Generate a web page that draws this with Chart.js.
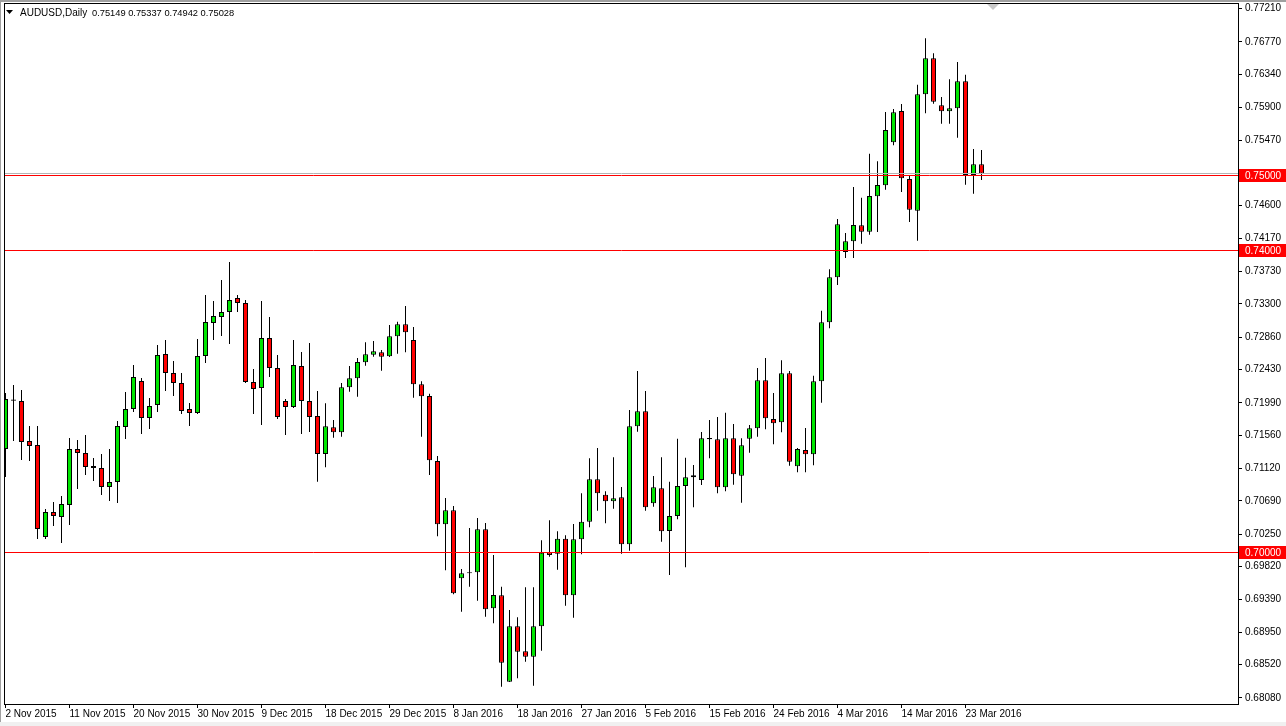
<!DOCTYPE html>
<html>
<head>
<meta charset="utf-8">
<script src="https://cdn.jsdelivr.net/npm/chart.js@4.4.1/dist/chart.umd.min.js"></script>
<style>
  html, body { margin: 0; padding: 0; background: #fff; }
  canvas { display: block; }
</style>
</head>
<body>
<canvas id="chart" width="1286" height="726"></canvas>
<script>
const symbol = 'AUDUSD,Daily';

// daily candles, 2 Nov 2015 .. 25 Mar 2016 (index = bar number)
const opens = [
  0.71377, 0.72033, 0.72013, 0.71483, 0.71430, 0.70212, 0.70543, 0.70477, 0.70636, 0.71377,
  0.71325, 0.71152, 0.71126, 0.70874, 0.70940, 0.71669, 0.71907, 0.72278, 0.71788, 0.71960,
  0.72636, 0.72384, 0.72252, 0.71907, 0.71854, 0.72609, 0.73046, 0.73126, 0.73192, 0.73377,
  0.73311, 0.72265, 0.72185, 0.72848, 0.72450, 0.72013, 0.71934, 0.72477, 0.72013, 0.71815,
  0.71311, 0.71665, 0.71599, 0.72195, 0.72314, 0.72526, 0.72626, 0.72658, 0.72605, 0.72870,
  0.73029, 0.72821, 0.72234, 0.72079, 0.71219, 0.70380, 0.70566, 0.69665, 0.69746, 0.69744,
  0.70314, 0.69268, 0.69440, 0.68295, 0.69029, 0.68698, 0.68626, 0.69029, 0.70009, 0.69991,
  0.70189, 0.69440, 0.70181, 0.70415, 0.70976, 0.70772, 0.70685, 0.70738, 0.70115, 0.71678,
  0.71877, 0.70658, 0.70857, 0.70291, 0.70490, 0.70887, 0.71003, 0.70967, 0.71522, 0.71506,
  0.70870, 0.71519, 0.71024, 0.71514, 0.71652, 0.72287, 0.71775, 0.71731, 0.72380, 0.71148,
  0.71364, 0.71307, 0.72274, 0.73056, 0.73652, 0.73987, 0.74129, 0.74340, 0.74256, 0.74725,
  0.74870, 0.75440, 0.75854, 0.74954, 0.74534, 0.76076, 0.76552, 0.75930, 0.75850, 0.75890,
  0.76248, 0.75007, 0.75149
];
const highs = [
  0.72119, 0.72225, 0.72159, 0.71682, 0.71682, 0.70583, 0.70676, 0.70755, 0.71523, 0.71497,
  0.71563, 0.71258, 0.71311, 0.71377, 0.71748, 0.72132, 0.72490, 0.72318, 0.72053, 0.72755,
  0.72821, 0.72543, 0.72384, 0.71987, 0.72834, 0.73417, 0.73338, 0.73616, 0.73854, 0.73417,
  0.73351, 0.72437, 0.73338, 0.73126, 0.72623, 0.72040, 0.72821, 0.72662, 0.72781, 0.72146,
  0.71983, 0.71762, 0.72252, 0.72477, 0.72583, 0.72791, 0.72808, 0.72689, 0.73020, 0.73064,
  0.73272, 0.72993, 0.72274, 0.72110, 0.71285, 0.70728, 0.70623, 0.69788, 0.70331, 0.70464,
  0.70397, 0.69974, 0.69554, 0.69245, 0.69148, 0.69546, 0.69546, 0.70168, 0.70433, 0.70287,
  0.70234, 0.70384, 0.70791, 0.71254, 0.71391, 0.70817, 0.71268, 0.70874, 0.71894, 0.72411,
  0.72146, 0.71020, 0.71268, 0.70944, 0.71514, 0.71262, 0.71166, 0.71603, 0.71762, 0.71801,
  0.71858, 0.71709, 0.71519, 0.71695, 0.72450, 0.72583, 0.72119, 0.72552, 0.72411, 0.71391,
  0.71656, 0.72348, 0.73209, 0.73758, 0.74424, 0.74238, 0.74848, 0.74706, 0.75289, 0.75188,
  0.75841, 0.75881, 0.75947, 0.74997, 0.76203, 0.76817, 0.76619, 0.76040, 0.76274, 0.76503,
  0.76335, 0.75351, 0.75337
];
const lows = [
  0.71007, 0.71483, 0.71232, 0.71219, 0.70185, 0.70185, 0.70358, 0.70132, 0.70371, 0.70848,
  0.71033, 0.70954, 0.70768, 0.70689, 0.70662, 0.71510, 0.71868, 0.71576, 0.71642, 0.71868,
  0.72146, 0.72079, 0.71841, 0.71682, 0.71841, 0.72517, 0.72821, 0.72874, 0.72768, 0.73192,
  0.72250, 0.71841, 0.71695, 0.72331, 0.71775, 0.71563, 0.71921, 0.71576, 0.71603, 0.70944,
  0.71135, 0.71527, 0.71540, 0.72136, 0.72070, 0.72481, 0.72600, 0.72415, 0.72595, 0.72640,
  0.72658, 0.72057, 0.71540, 0.71033, 0.70221, 0.69771, 0.69455, 0.69223, 0.69554, 0.69368,
  0.69156, 0.69069, 0.68229, 0.68290, 0.68340, 0.68560, 0.68242, 0.68706, 0.69951, 0.69779,
  0.69302, 0.69143, 0.69983, 0.70340, 0.70560, 0.70393, 0.70587, 0.69991, 0.70030, 0.71607,
  0.70560, 0.70613, 0.70150, 0.69709, 0.70446, 0.69811, 0.70605, 0.70901, 0.71254, 0.70791,
  0.70817, 0.70905, 0.70666, 0.71328, 0.71540, 0.71638, 0.71440, 0.71599, 0.71156, 0.71069,
  0.71069, 0.71162, 0.71991, 0.72976, 0.73550, 0.73907, 0.73907, 0.74097, 0.74216, 0.74252,
  0.74812, 0.75400, 0.74781, 0.74384, 0.74136, 0.75824, 0.75951, 0.75686, 0.75686, 0.75501,
  0.74878, 0.74759, 0.74942
];
const closes = [
  0.72040, 0.72018, 0.71470, 0.71417, 0.70318, 0.70543, 0.70490, 0.70649, 0.71377, 0.71325,
  0.71139, 0.71126, 0.70874, 0.70940, 0.71682, 0.71907, 0.72331, 0.71788, 0.71947, 0.72623,
  0.72384, 0.72252, 0.71881, 0.71854, 0.72609, 0.73060, 0.73139, 0.73192, 0.73351, 0.73311,
  0.72265, 0.72172, 0.72848, 0.72450, 0.71801, 0.71934, 0.72490, 0.72013, 0.71801, 0.71311,
  0.71678, 0.71599, 0.72195, 0.72314, 0.72530, 0.72632, 0.72672, 0.72600, 0.72870, 0.73029,
  0.72923, 0.72234, 0.72075, 0.71228, 0.70380, 0.70566, 0.69466, 0.69731, 0.69731, 0.70314,
  0.69254, 0.69444, 0.68547, 0.69029, 0.68693, 0.68626, 0.69029, 0.70004, 0.69974, 0.70189,
  0.69440, 0.70181, 0.70415, 0.70976, 0.70791, 0.70685, 0.70725, 0.70115, 0.71678, 0.71877,
  0.70605, 0.70870, 0.70287, 0.70490, 0.70887, 0.71003, 0.71029, 0.71519, 0.71507, 0.70870,
  0.71519, 0.71042, 0.71427, 0.71652, 0.72287, 0.71784, 0.71718, 0.72380, 0.71209, 0.71377,
  0.71307, 0.72274, 0.73056, 0.73652, 0.74354, 0.74129, 0.74344, 0.74256, 0.74729, 0.74874,
  0.75603, 0.75837, 0.74963, 0.74547, 0.76076, 0.76552, 0.75978, 0.75850, 0.75890, 0.76248,
  0.75007, 0.75148, 0.75028
];

const tickBars = [0, 8, 16, 24, 32, 40, 48, 56, 64, 72, 80, 88, 96, 104, 112, 120];
const tickLabels = [
  '2 Nov 2015', '11 Nov 2015', '20 Nov 2015', '30 Nov 2015', '9 Dec 2015', '18 Dec 2015',
  '29 Dec 2015', '8 Jan 2016', '18 Jan 2016', '27 Jan 2016', '5 Feb 2016', '15 Feb 2016',
  '24 Feb 2016', '4 Mar 2016', '14 Mar 2016', '23 Mar 2016'
];
const yTicks = [
  0.77210, 0.76770, 0.76340, 0.75900, 0.75470, 0.74600, 0.74170, 0.73730, 0.73300, 0.72860,
  0.72430, 0.71990, 0.71560, 0.71120, 0.70690, 0.70250, 0.69820, 0.69390, 0.68950, 0.68520,
  0.68080
];
const levels = [0.75000, 0.74000, 0.70000];

const FONT = 'Liberation Sans, Arial, sans-serif';
const last = closes.length - 1;
const X_MIN = -0.0625, X_MAX = 154.0625;

const bodyColor = opens.map((o, i) => closes[i] >= o ? '#00e600' : '#ff0000');

// pas de marge automatique autour de la zone de trace
function noPadding(s) {
    s.paddingTop = 0;
    s.paddingBottom = 0;
    s.paddingLeft = 0;
    s.paddingRight = 0;
}

// ligne horizontale sur toute la largeur
function hLine(label, value, color, order) {
    return {
        type: 'line',
        label: label,
        data: [{ x: X_MIN, y: value }, { x: X_MAX, y: value }],
        borderColor: color,
        borderWidth: 1,
        pointRadius: 0,
        fill: false,
        order: order
    };
}

// fenetre MT4 : cadre, etiquettes rouges, en-tete
const mt4Plugin = {
    id: 'mt4',
    beforeDraw(chart) {
        const c = chart.ctx;
        c.save();
        c.fillStyle = '#ffffff';
        c.fillRect(0, 0, chart.width, chart.height);
        c.fillStyle = '#a0a0a0';
        c.fillRect(0, 0, chart.width, 2);
        c.fillRect(0, 0, 1, chart.height);
        c.fillStyle = '#f0f0f0';
        c.fillRect(0, chart.height - 4, chart.width, 4);
        c.restore();
    },
    // lignes horizontales nettes (calees sur le pixel)
    beforeDatasetDraw(chart, args) {
        const ds = chart.data.datasets[args.index];
        if (ds.type !== 'line') return;
        const px = chart.scales.y.getPixelForValue(ds.data[0].y);
        chart.ctx.save();
        chart.ctx.translate(0, Math.floor(px) + 0.5 - px);
    },
    afterDatasetDraw(chart, args) {
        const ds = chart.data.datasets[args.index];
        if (ds.type !== 'line') return;
        chart.ctx.restore();
    },
    afterDraw(chart) {
        const c = chart.ctx;
        const a = chart.chartArea;
        const y = chart.scales.y;
        c.save();
        c.strokeStyle = '#000';
        c.lineWidth = 1;
        c.strokeRect(a.left - 0.5, a.top - 0.5, a.right - a.left + 1, a.bottom - a.top + 1);

        // petit triangle (decalage du graphique)
        c.fillStyle = '#c8c8c8';
        c.beginPath(); c.moveTo(987, 4); c.lineTo(999, 4); c.lineTo(993, 10); c.closePath(); c.fill();

        // etiquettes de prix des niveaux
        c.font = '10px ' + FONT;
        c.textBaseline = 'middle';
        levels.forEach(v => {
            const p = Math.floor(y.getPixelForValue(v));
            c.fillStyle = '#ff0000';
            c.fillRect(a.right + 1, p - 6, chart.width - a.right - 1, 13);
            c.fillStyle = '#ffffff';
            c.fillText(v.toFixed(5), a.right + 7, p + 1);
        });

        // en-tete
        c.fillStyle = '#000';
        c.beginPath(); c.moveTo(6, 10); c.lineTo(13, 10); c.lineTo(9.5, 14); c.closePath(); c.fill();
        c.textBaseline = 'alphabetic';
        c.font = '10px ' + FONT;
        c.fillText(symbol, 20, 16);
        c.font = '9.3px ' + FONT;
        c.fillText([opens[last], highs[last], lows[last], closes[last]].map(v => v.toFixed(5)).join(' '), 92, 16);
        c.restore();
    }
};

new Chart(document.getElementById('chart'), {
    type: 'bar',
    data: {
        datasets: [
            hLine('bid', closes[last], '#b4b4b4', -1),
            ...levels.map(v => hLine(v.toFixed(5), v, '#ff0000', -2)),
            {
                label: 'body',
                data: opens.map((o, i) => ({ x: i, y: [o, closes[i]] })),
                backgroundColor: bodyColor,
                borderColor: '#000',
                borderWidth: 1,
                borderSkipped: false,
                barThickness: 5,
                inflateAmount: 0,
                grouped: false,
                order: 1
            },
            {
                label: 'wick',
                data: lows.map((l, i) => ({ x: i, y: [l, highs[i]] })),
                backgroundColor: '#000',
                borderWidth: 0,
                barThickness: 1,
                inflateAmount: 0,
                grouped: false,
                order: 2
            }
        ]
    },
    options: {
        responsive: false,
        animation: false,
        devicePixelRatio: 1,
        layout: { padding: { top: 4, left: 5, right: 0, bottom: 0 } },
        plugins: { legend: { display: false }, tooltip: { enabled: false } },
        scales: {
            x: {
                type: 'linear',
                position: 'bottom',
                offset: false,
                min: X_MIN,
                max: X_MAX,
                afterFit: s => { s.height = 22; noPadding(s); },
                afterBuildTicks: s => { s.ticks = tickBars.map(v => ({ value: v })); },
                ticks: {
                    autoSkip: false,
                    maxRotation: 0,
                    align: 'start',
                    padding: 0,
                    color: '#000',
                    font: { family: FONT, size: 10 },
                    callback: (v, i) => tickLabels[i]
                },
                grid: { drawOnChartArea: false, drawTicks: true, tickLength: 4, color: '#000', offset: false },
                border: { display: false }
            },
            y: {
                position: 'right',
                min: 0.68,
                max: 0.772715,
                afterFit: s => { s.width = 48; noPadding(s); },
                afterBuildTicks: s => { s.ticks = yTicks.map(v => ({ value: v })); },
                ticks: {
                    autoSkip: false,
                    padding: 3,
                    color: '#000',
                    font: { family: FONT, size: 10 },
                    callback: v => v.toFixed(5)
                },
                grid: { drawOnChartArea: false, drawTicks: true, tickLength: 4, color: '#000' },
                border: { display: false }
            }
        }
    },
    plugins: [mt4Plugin]
});
</script>
</body>
</html>
